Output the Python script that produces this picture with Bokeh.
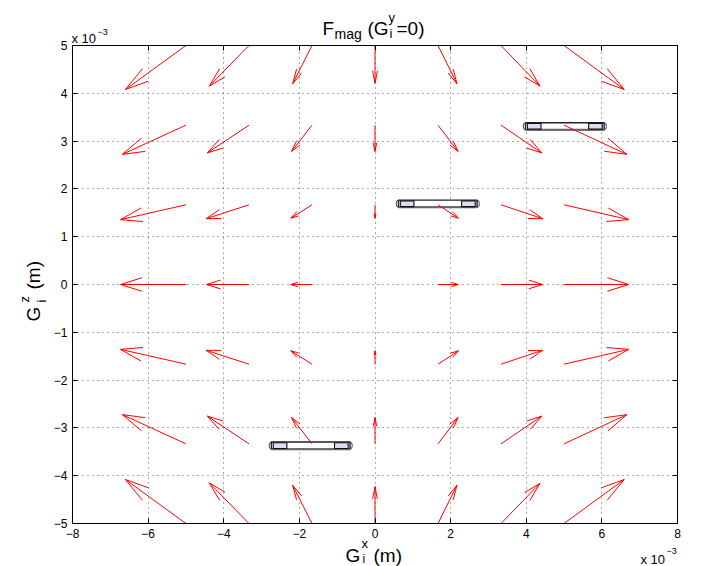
import numpy as np
from bokeh.plotting import figure
from bokeh.models import Range1d, FixedTicker, LinearAxis
from bokeh.core.properties import value
from bokeh.embed import file_html
from bokeh.resources import INLINE

# ---------------- data (all lengths in units of 1e-3 m) ----------------
grid_x = [-5.0, -3.333, -1.667, 0.0, 1.667, 3.333, 5.0]
grid_y = [5.0, 3.333, 1.667, 0.0, -1.667, -3.333, -5.0]   # rows, top to bottom

force_u = [
    [-1.60, -1.05, -0.51, 0.0, 0.50, 1.03, 1.59],
    [-1.68, -1.10, -0.54, 0.0, 0.53, 1.08, 1.66],
    [-1.73, -1.13, -0.56, 0.0, 0.54, 1.10, 1.71],
    [-1.73, -1.12, -0.56, 0.0, 0.53, 1.10, 1.71],
    [-1.73, -1.13, -0.56, 0.0, 0.54, 1.10, 1.71],
    [-1.68, -1.10, -0.54, 0.0, 0.53, 1.08, 1.66],
    [-1.60, -1.05, -0.51, 0.0, 0.50, 1.03, 1.59],
]
force_v = [
    [-0.92, -0.85, -0.80, -0.79, -0.80, -0.85, -0.92],
    [-0.61, -0.58, -0.55, -0.55, -0.55, -0.58, -0.61],
    [-0.31, -0.29, -0.28, -0.28, -0.28, -0.29, -0.31],
    [0.0, 0.0, 0.0, 0.0, 0.0, 0.0, 0.0],
    [0.31, 0.29, 0.28, 0.28, 0.28, 0.29, 0.31],
    [0.61, 0.58, 0.55, 0.55, 0.55, 0.58, 0.61],
    [0.92, 0.85, 0.80, 0.77, 0.80, 0.84, 0.92],
]

magnet_x = [1.66, 5.02, -1.70]
magnet_y = [1.69, 3.31, -3.37]

x_ticks = [-8, -6, -4, -2, 0, 2, 4, 6, 8]
x_tick_labels = ["\u22128", "\u22126", "\u22124", "\u22122", "0", "2", "4", "6", "8"]
y_ticks = [-5, -4, -3, -2, -1, 0, 1, 2, 3, 4, 5]
y_tick_labels = ["\u22125", "\u22124", "\u22123", "\u22122", "\u22121", "0", "1", "2", "3", "4", "5"]

# ---------------- styling constants ----------------
FONT = "Liberation Sans"
ARROW_COLOR = "#ff0000"
HEAD_ALPHA = 0.33   # arrow head length relative to vector
HEAD_BETA = 0.25    # arrow head half-width relative to vector
MAG_LEN = 2.08
MAG_THICK = 0.15
MAG_CAP = 0.36

W, H = 702, 566
FL, FR, FT, FB = 72, 677, 45, 523   # frame edges in page pixels

p = figure(width=W, height=H, x_range=Range1d(-8, 8), y_range=Range1d(-5, 5),
           output_backend="svg", toolbar_location=None, title=None,
           min_border_left=FL, min_border_right=W - FR, min_border_top=FT, min_border_bottom=H - FB)
p.background_fill_color = "white"
p.border_fill_color = "white"
p.outline_line_color = "black"
p.outline_line_width = 1

# axes
def style_axis(ax, ticks, labels, standoff, show_labels=True):
    ax.ticker = FixedTicker(ticks=ticks)
    if show_labels:
        ax.major_label_overrides = {t: l for t, l in zip(ticks, labels)}
        ax.major_label_text_font_size = "12px"
    else:
        ax.major_label_overrides = {t: "" for t in ticks}
        ax.major_label_text_font_size = "0px"
    ax.major_tick_in = 5
    ax.major_tick_out = 0
    ax.minor_tick_in = 0
    ax.minor_tick_out = 0
    ax.major_tick_line_color = "black"
    ax.axis_line_color = "black"
    ax.major_label_standoff = standoff
    ax.major_label_text_font = FONT
    ax.major_label_text_color = "black"

style_axis(p.xaxis[0], x_ticks, x_tick_labels, 5)
style_axis(p.yaxis[0], y_ticks, y_tick_labels, 5)
top_ax = LinearAxis()
style_axis(top_ax, x_ticks, x_tick_labels, 0, show_labels=False)
p.add_layout(top_ax, "above")
right_ax = LinearAxis()
style_axis(right_ax, y_ticks, y_tick_labels, 0, show_labels=False)
p.add_layout(right_ax, "right")

p.xgrid.ticker = FixedTicker(ticks=x_ticks)
p.ygrid.ticker = FixedTicker(ticks=y_ticks)
p.grid.grid_line_color = "#333333"
p.grid.grid_line_dash = "1 4"
p.grid.grid_line_alpha = 0.8

# ---------------- magnets ----------------
mx = np.array(magnet_x)
my = np.array(magnet_y)
p.ellipse(x=np.concatenate([mx - MAG_LEN / 2, mx + MAG_LEN / 2]), y=np.concatenate([my, my]),
          width=0.12, height=MAG_THICK, fill_color="white", line_color="#444444", line_width=1.0)
p.rect(x=mx, y=my, width=MAG_LEN, height=MAG_THICK, fill_color="white",
       line_color="#222222", line_width=1.4)
p.segment(x0=mx - MAG_LEN / 2, y0=my - MAG_THICK / 2, x1=mx + MAG_LEN / 2, y1=my - MAG_THICK / 2,
          line_color="#666666", line_width=2.0)
cap_x = np.concatenate([mx - MAG_LEN / 2 + MAG_CAP / 2 + 0.05, mx + MAG_LEN / 2 - MAG_CAP / 2 - 0.05])
cap_y = np.concatenate([my, my])
p.rect(x=cap_x, y=cap_y, width=MAG_CAP, height=MAG_THICK * 0.8, fill_color="#dcdcf4",
       line_color="#111111", line_width=1.1)

# ---------------- quiver ----------------
X0, Y0 = np.meshgrid(np.array(grid_x), np.array(grid_y))
U = np.array(force_u)
V = np.array(force_v)
x0 = X0.ravel(); y0 = Y0.ravel(); u = U.ravel(); v = V.ravel()
keep = (np.abs(u) + np.abs(v)) > 0
x0, y0, u, v = x0[keep], y0[keep], u[keep], v[keep]
x1 = x0 + u
y1 = y0 + v
p.segment(x0=x0, y0=y0, x1=x1, y1=y1, line_color=ARROW_COLOR, line_width=1)
hx = [[x1[i] - HEAD_ALPHA * (u[i] + HEAD_BETA * v[i]), x1[i], x1[i] - HEAD_ALPHA * (u[i] - HEAD_BETA * v[i])]
      for i in range(len(u))]
hy = [[y1[i] - HEAD_ALPHA * (v[i] - HEAD_BETA * u[i]), y1[i], y1[i] - HEAD_ALPHA * (v[i] + HEAD_BETA * u[i])]
      for i in range(len(u))]
p.multi_line(xs=hx, ys=hy, line_color=ARROW_COLOR, line_width=1)

# ---------------- texts outside the frame (overlay-level text glyphs) ----------------
def PX(px):
    return -8 + (px - FL) * 16.0 / (FR - FL)

def PY(py):
    return 5 - (py - FT) * 10.0 / (FB - FT)

def lab(text, px, py, size, angle=0.0):
    p.text(x=[PX(px)], y=[PY(py)], text=[text], text_font=value(FONT),
           text_font_size=value(f"{size}px"), text_color="black",
           text_baseline="alphabetic", text_align="left", angle=angle, level="overlay")

# title  F_mag (G_i^y=0)
lab("F", 322, 28, 19)
lab("mag", 334, 33, 14)
lab("(G", 367, 28, 19)
lab("y", 388, 17, 13)
lab("i", 389, 33, 13)
lab("=0)", 396, 28, 19)
# exponent multiplier (top-left)
lab("x 10", 71, 38, 13)
lab("\u22123", 97, 31, 9)

# x label  G_i^x (m)
lab("G", 345, 555, 19)
lab("x", 361, 543, 13)
lab("i", 362, 558, 12)
lab("(m)", 373, 555, 19)
# exponent multiplier (bottom-right)
lab("x 10", 640, 559, 13)
lab("\u22123", 666, 550, 9)

# y label  G_i^z (m) (rotated)
ang = np.pi / 2
lab("G", 33, 321, 19, ang)
lab("z", 24, 302, 13, ang)
lab("i", 41, 302, 13, ang)
lab("(m)", 33, 289, 19, ang)

open("out.html", "w").write(file_html(p, INLINE))
